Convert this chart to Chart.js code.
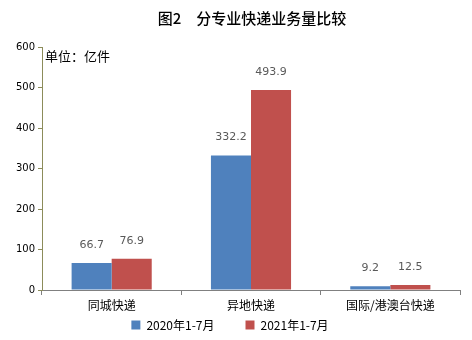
<!DOCTYPE html>
<html>
<head>
<meta charset="utf-8">
<script src="https://cdn.jsdelivr.net/npm/chart.js@4/dist/chart.umd.min.js"></script>
<style>
  html, body { margin: 0; padding: 0; background: #fff; }
  #wrap { width: 472px; height: 340px; }
</style>
</head>
<body>
<div id="wrap"><canvas id="chart" width="472" height="340"></canvas></div>
<script>
// Express volume by type (unit: 100 million pieces)
const categories = ['同城快递', '异地快递', '国际/港澳台快递'];
const seriesNames = ['2020年1-7月', '2021年1-7月'];
const values2020 = [66.7, 332.2, 9.2];
const values2021 = [76.9, 493.9, 12.5];
const yTicks = [0, 100, 200, 300, 400, 500, 600];

const cjkFont = '"Noto Sans CJK SC", "Noto Sans", sans-serif';
const numFont = '"DejaVu Sans", sans-serif';

// value labels above each bar
const valueLabels = {
  id: 'valueLabels',
  afterDatasetsDraw(chart) {
    const ctx = chart.ctx;
    ctx.save();
    ctx.font = '11px ' + numFont;
    ctx.fillStyle = '#595959';
    ctx.textAlign = 'center';
    ctx.textBaseline = 'middle';
    chart.data.datasets.forEach((ds, i) => {
      chart.getDatasetMeta(i).data.forEach((bar, j) => {
        ctx.fillText(ds.data[j].toFixed(1), bar.x, bar.y - 18);
      });
    });
    ctx.restore();
  }
};

// heading centred over the plot, plus the unit note in its top-left corner
const headings = {
  id: 'headings',
  afterDraw(chart) {
    const ctx = chart.ctx;
    const area = chart.chartArea;
    ctx.save();
    ctx.fillStyle = '#000';
    ctx.textBaseline = 'middle';
    ctx.font = '500 15px ' + cjkFont;
    ctx.textAlign = 'center';
    ctx.fillText('图2　分专业快递业务量比较', (area.left + area.right) / 2 + 1, 18);
    ctx.font = '13px ' + cjkFont;
    ctx.textAlign = 'left';
    ctx.fillText('单位：亿件', area.left + 3, area.top + 9);
    ctx.restore();
  }
};

new Chart(document.getElementById('chart'), {
  type: 'bar',
  data: {
    labels: categories,
    datasets: [
      { label: seriesNames[0], data: values2020, backgroundColor: '#4F81BD' },
      { label: seriesNames[1], data: values2021, backgroundColor: '#C0504D' }
    ]
  },
  options: {
    responsive: false,
    animation: false,
    layout: { padding: { left: 0, right: 12, top: 47, bottom: 0 } },
    datasets: { bar: { barPercentage: 1, categoryPercentage: 0.575 } },
    plugins: {
      title: { display: false },
      legend: {
        position: 'bottom',
        maxHeight: 28,
        labels: {
          boxWidth: 9,
          boxHeight: 9,
          color: '#000',
          padding: 7,
          font: { family: cjkFont, size: 12 },
          // widen the gap between the two entries
          generateLabels(chart) {
            const items = Chart.defaults.plugins.legend.labels.generateLabels(chart);
            items[0].text += '\u3000\u3000';
            return items;
          }
        }
      },
      tooltip: { enabled: false }
    },
    scales: {
      x: {
        offset: true,
        afterFit(scale) { scale.height = 22; },
        grid: { offset: true, drawOnChartArea: false, drawTicks: true, tickLength: 5, color: '#808080' },
        border: { color: '#808080' },
        ticks: { color: '#000', padding: 3, font: { family: cjkFont, size: 12 } }
      },
      y: {
        min: 0,
        max: 600,
        afterBuildTicks(scale) { scale.ticks = yTicks.map(v => ({ value: v })); },
        afterFit(scale) { scale.width = 42; },
        grid: { drawOnChartArea: false, drawTicks: true, tickLength: 4, color: '#8c8c5a' },
        border: { color: '#8c8c5a' },
        ticks: { color: '#000', padding: 3, font: { family: numFont, size: 10 } }
      }
    }
  },
  plugins: [valueLabels, headings]
});
</script>
</body>
</html>
